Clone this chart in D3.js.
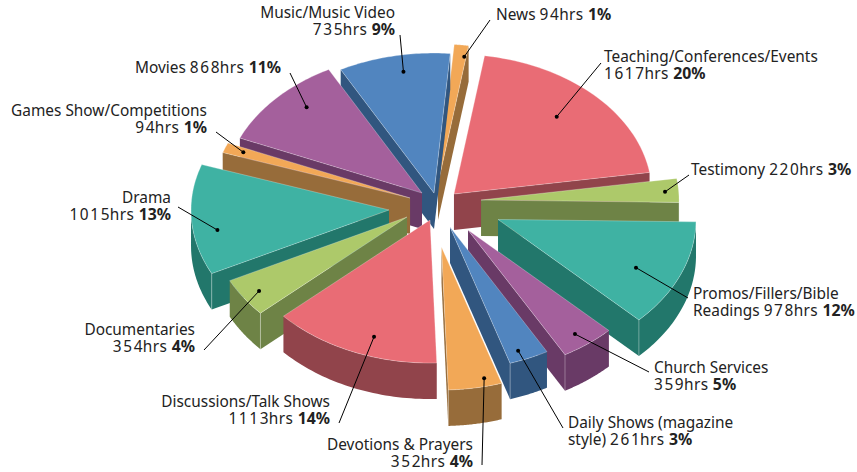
<!DOCTYPE html>
<html><head><meta charset="utf-8">
<script src="https://cdn.jsdelivr.net/npm/d3@7/dist/d3.min.js"></script>
<style>html,body{margin:0;background:#fff}svg{display:block}text{font-family:"Noto Sans",sans-serif;font-size:15.4px;fill:#222}</style>
</head><body><svg id="c" width="857" height="472"></svg>
<script>
const categoryLines = [
  ["Teaching/Conferences/Events"],["Testimony"],["Promos/Fillers/Bible","Readings"],["Church Services"],
  ["Daily Shows (magazine","style)"],["Devotions & Prayers"],["Discussions/Talk Shows"],["Documentaries"],
  ["Drama"],["Games Show/Competitions"],["Movies"],["Music/Music Video"],["News"]];
const hours = [1617,220,978,359,261,352,1113,354,1015,94,868,735,94];
const percents = [20,3,12,5,3,4,14,4,13,1,11,9,1];
// name and value share a line for these slices
const inlineValue = [false,true,false,false,true,false,false,false,false,false,true,false,true];
// how far each slice is pulled out, and the bearing it is pulled along (degrees)
const explosion = [23,44.2,63.7,46.3,33,59,22,34.6,48.9,29.4,23.4,17.8,30.3];
const explosionBearing = [45.7,80.1,108.2,138.8,157.8,176.1,199.9,241.7,262.4,290.9,318.5,348.7,0.9];
// where each leader meets its slice: fraction of radius, bearing (degrees)
const leaderRadius = [.758,.931,.774,.906,.931,.943,.864,.909,.878,.903,.845,.88,.919];
const leaderBearing = [43.2,86.4,115.8,143.4,158.3,166.8,199.1,235.3,260.8,291.2,316.4,349.9,8.3];
const topColors = ["#E96C75","#ADC96A","#3FB2A3","#A4609C","#5185BF","#F2A857","#E96C75","#ADC96A","#3FB2A3","#F2A857","#A4609C","#5185BF","#F2A857"];
const sideColors = ["#91444B","#6E8346","#22776B","#693A66","#31567F","#976C3A","#91444B","#6E8346","#22776B","#976C3A","#693A66","#31567F","#976C3A"];
// label anchor: x, first baseline, text-anchor; leader end x,y
const labelLayout = [
  [604,62,"start",601,63],[691,175,"start",689,175],[693,299,"start",688,298],[654,373,"start",649,372],
  [568,428,"start",563,428],[473,450,"end",482,465],[330,407,"end",339,423],[195,335,"end",204,350],
  [171,203,"end",178,207],[207,116,"end",216,132],[281,73,"end",290,73],[395,18,"end",400,35],[496,20,"start",490,20]];

const svg = d3.select("#c");
const cx = 437.5, cy = 205.4, depth = 36, startDeg = 8.9;
const rx = d3.scaleLinear().domain([0,1]).range([0,198]);
const ryBack = d3.scaleLinear().domain([0,1]).range([0,140]);
const ryFront = d3.scaleLinear().domain([0,1]).range([0,143]);
const rad = d => d*Math.PI/180;
const pie = d3.pie().sort(null).value(d=>d).startAngle(rad(startDeg)).endAngle(rad(startDeg+360));
const arcs = pie(hours).map((a,i)=>{
  const mid=(a.startAngle+a.endAngle)/2, t=explosion[i], b=rad(explosionBearing[i]);
  const ax=cx+t*Math.sin(b), ay=cy-t*Math.cos(b)*(140/198);
  const P=(ang,r=1)=>{
    const c=Math.cos(ang);
    return [ax+rx(r)*Math.sin(ang), ay-(c>0?ryBack(r):ryFront(r))*c];
  };
  return {i,a0:a.startAngle,a1:a.endAngle,mid,P,ax,ay};
});
const line=d3.line();
const rim=s=>d3.range(0,41).map(k=>s.P(s.a0+(s.a1-s.a0)*k/40));
const norm=a=>((a%(2*Math.PI))+2*Math.PI)%(2*Math.PI);
const order=arcs.slice().sort((p,q)=>{
  const d=s=>Math.abs(norm(s.mid)-Math.PI);
  return d(q)-d(p);
});
const g=svg.append("g");
order.forEach(s=>{
  const n=g.append("g"), side=sideColors[s.i], top=topColors[s.i];
  const wall=(ang)=>{
    const A=[s.ax,s.ay],B=s.P(ang);
    return line([A,B,[B[0],B[1]+depth],[A[0],A[1]+depth]])+"Z";
  };
  const st=norm(s.a0), en=norm(s.a1);
  if(st>Math.PI) n.append("path").attr("d",wall(s.a0)).attr("fill",side);
  if(en<Math.PI) n.append("path").attr("d",wall(s.a1)).attr("fill",side);
  const lo=Math.max(s.a0,Math.PI/2), hi=Math.min(s.a1,Math.PI*1.5);
  if(hi>lo){
    const pts=d3.range(0,41).map(k=>s.P(lo+(hi-lo)*k/40));
    const low=pts.map(p=>[p[0],p[1]+depth]).reverse();
    n.append("path").attr("d",line(pts.concat(low))+"Z").attr("fill",side);
  }
  const seam=(ang)=>{const B=s.P(ang);
    n.append("line").attr("x1",B[0]).attr("y1",B[1]).attr("x2",B[0]).attr("y2",B[1]+depth)
     .attr("stroke","#fff").attr("stroke-opacity",.4).attr("stroke-width",.8);};
  if(st>Math.PI&&st<1.5*Math.PI) seam(s.a0);
  if(en>Math.PI/2&&en<Math.PI) seam(s.a1);
  n.append("path").attr("d",line([[s.ax,s.ay]].concat(rim(s)))+"Z")
   .attr("fill",top).attr("stroke","#fff").attr("stroke-opacity",.35).attr("stroke-width",.8);
});
const ann=svg.append("g");
arcs.forEach(s=>{
  const i=s.i, L=labelLayout[i], dot=s.P(rad(leaderBearing[i]),leaderRadius[i]);
  ann.append("line").attr("x1",dot[0]).attr("y1",dot[1]).attr("x2",L[3]).attr("y2",L[4]).attr("stroke","#000").attr("stroke-width",1);
  ann.append("circle").attr("cx",dot[0]).attr("cy",dot[1]).attr("r",2).attr("fill","#000");
  const t=ann.append("text").attr("text-anchor",L[2]).attr("x",L[0]).attr("y",L[1]);
  const lines=categoryLines[i];
  const addValue=(txt,prefix)=>{
    if(prefix) txt.append("tspan").text(prefix+" ");
    const h=String(hours[i]);
    txt.append("tspan").attr("letter-spacing","1.6").text(h.slice(0,-1));
    txt.append("tspan").attr("letter-spacing",".4").text(h.slice(-1)+"hrs ");
    txt.append("tspan").attr("font-weight","700").attr("font-size","15.8px").text(percents[i]+"%");
  };
  lines.forEach((ln,k)=>{
    const last=k===lines.length-1;
    const wrapsValue = inlineValue[i] || lines.length>1;
    const tt=t.append("tspan").attr("x",L[0]).attr("y",L[1]+k*16.5);
    if(last&&wrapsValue) addValue(tt,ln); else tt.text(ln);
  });
  if(!(inlineValue[i]||lines.length>1)){
    const tt=t.append("tspan").attr("x",L[0]).attr("y",L[1]+16.5);
    addValue(tt,null);
  }
});
</script></body></html>
